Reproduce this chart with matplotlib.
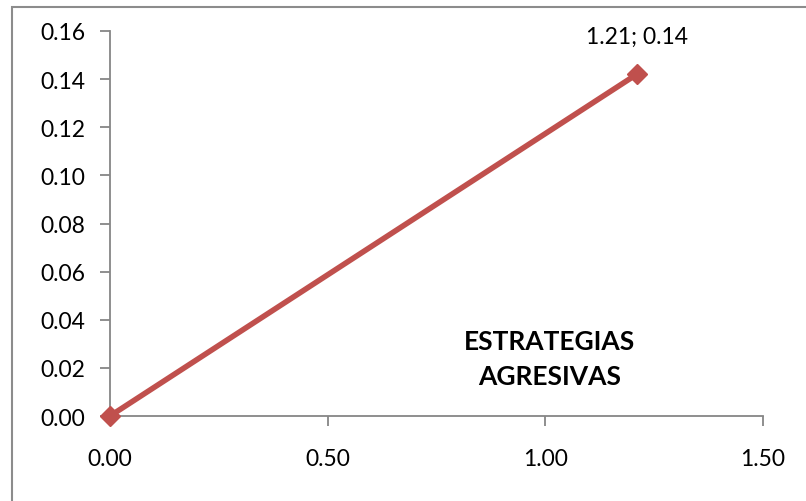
import matplotlib
matplotlib.use("Agg")
import matplotlib.pyplot as plt
from matplotlib.patches import Rectangle

# scatter line: origin to the strategy point
x_vals = [0.0, 1.21]
y_vals = [0.0, 0.142]
point_label = "1.21; 0.14"
series_name = "ESTRATEGIAS\nAGRESIVAS"

x_ticks = [0.0, 0.5, 1.0, 1.5]
y_ticks = [0.00, 0.02, 0.04, 0.06, 0.08, 0.10, 0.12, 0.14, 0.16]

plt.rcParams['font.family'] = ['Lato', 'DejaVu Sans']

fig = plt.figure(figsize=(8.06, 5.02), dpi=100)
ax = fig.add_axes([110 / 806, 1 - 417 / 502, (763 - 110) / 806, (417 - 32) / 502])

# chart area border
fig.patches.append(Rectangle((12 / 806, -0.1), 1.2, 1 - 8 / 502 + 0.1,
                             transform=fig.transFigure, fill=False,
                             edgecolor="#8c8c8c", linewidth=1.5))

red = "#C0504D"
ax.plot(x_vals, y_vals, color=red, linewidth=4, marker="D",
        markersize=10.5, markerfacecolor=red, markeredgecolor=red,
        clip_on=False, zorder=5)

ax.annotate(point_label, (x_vals[1], y_vals[1]), xytext=(0, 20),
            textcoords="offset points", ha="center", va="bottom", fontsize=16.5)
ax.text(1.01, 0.0237, series_name, ha="center", va="center",
        fontsize=19, fontweight="bold", linespacing=1.55)

ax.set_xlim(0, 1.5)
ax.set_ylim(0, 0.16)
ax.set_xticks(x_ticks)
ax.set_yticks(y_ticks)
ax.set_xticklabels([f"{v:.2f}" for v in x_ticks])
ax.set_yticklabels([f"{v:.2f}" for v in y_ticks])

for side in ("top", "right"):
    ax.spines[side].set_visible(False)
for side in ("left", "bottom"):
    ax.spines[side].set_color("#868686")
    ax.spines[side].set_linewidth(1.3)
ax.tick_params(length=7, width=1.3, color="#868686", labelsize=16.5,
               direction="out")
ax.tick_params(axis="x", pad=16)
ax.tick_params(axis="y", pad=11)

fig.savefig("out.png", dpi=100)
